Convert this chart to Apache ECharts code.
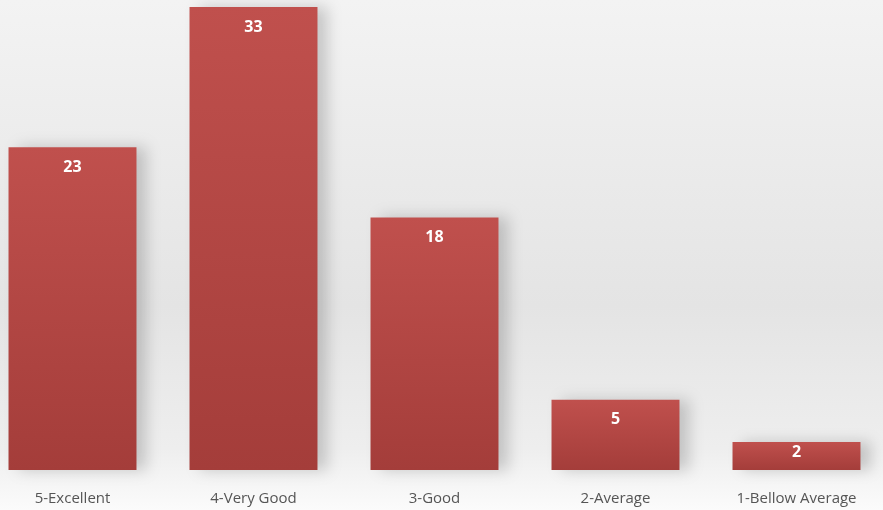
<!DOCTYPE html>
<html><head><meta charset="utf-8">
<script src="https://cdn.jsdelivr.net/npm/echarts@6/dist/echarts.min.js"></script>
<style>html,body{margin:0;padding:0;overflow:hidden;width:883px;height:510px;background:#fff}
#c{position:absolute;left:-18.5px;top:0;width:905px;height:510px}</style>
</head><body><div id="c"></div>
<script>
const categories = ['5-Excellent', '4-Very Good', '3-Good', '2-Average', '1-Bellow Average'];
const values = [23, 33, 18, 5, 2];
const yMax = 33;

document.body.style.background = 'linear-gradient(#f3f3f3 0%, #e4e4e4 60%, #eeeeee 88%, #fbfbfb 100%)';
const chart = echarts.init(document.getElementById('c'), null, {renderer: 'canvas'});
chart.setOption({
  backgroundColor: 'transparent',
  animation: false,
  grid: {left: 0, right: 0, top: 7, bottom: 40, containLabel: false},
  xAxis: {
    type: 'category', data: categories,
    axisLine: {show: false}, axisTick: {show: false},
    axisLabel: {color: '#555', fontFamily: 'Open Sans', fontSize: 15, margin: 21}
  },
  yAxis: {type: 'value', min: 0, max: yMax, show: false, splitLine: {show: false}},
  series: [{
    type: 'bar',
    data: values.map(v => v < 3 ? {value: v, label: {position: 'inside', offset: [0, -4]}} : v),
    barCategoryGap: '29.3%',
    itemStyle: {
      color: new echarts.graphic.LinearGradient(0, 0, 0, 1, [
        {offset: 0, color: '#c0504d'},
        {offset: 1, color: '#a43d3a'}
      ]),
      shadowColor: 'rgba(0,0,0,0.18)', shadowBlur: 14, shadowOffsetX: 10, shadowOffsetY: 0
    },
    label: {show: true, position: 'insideTop', distance: 12, color: '#fff', fontWeight: 'bold', fontFamily: 'Open Sans', fontSize: 16}
  }]
});
</script></body></html>
